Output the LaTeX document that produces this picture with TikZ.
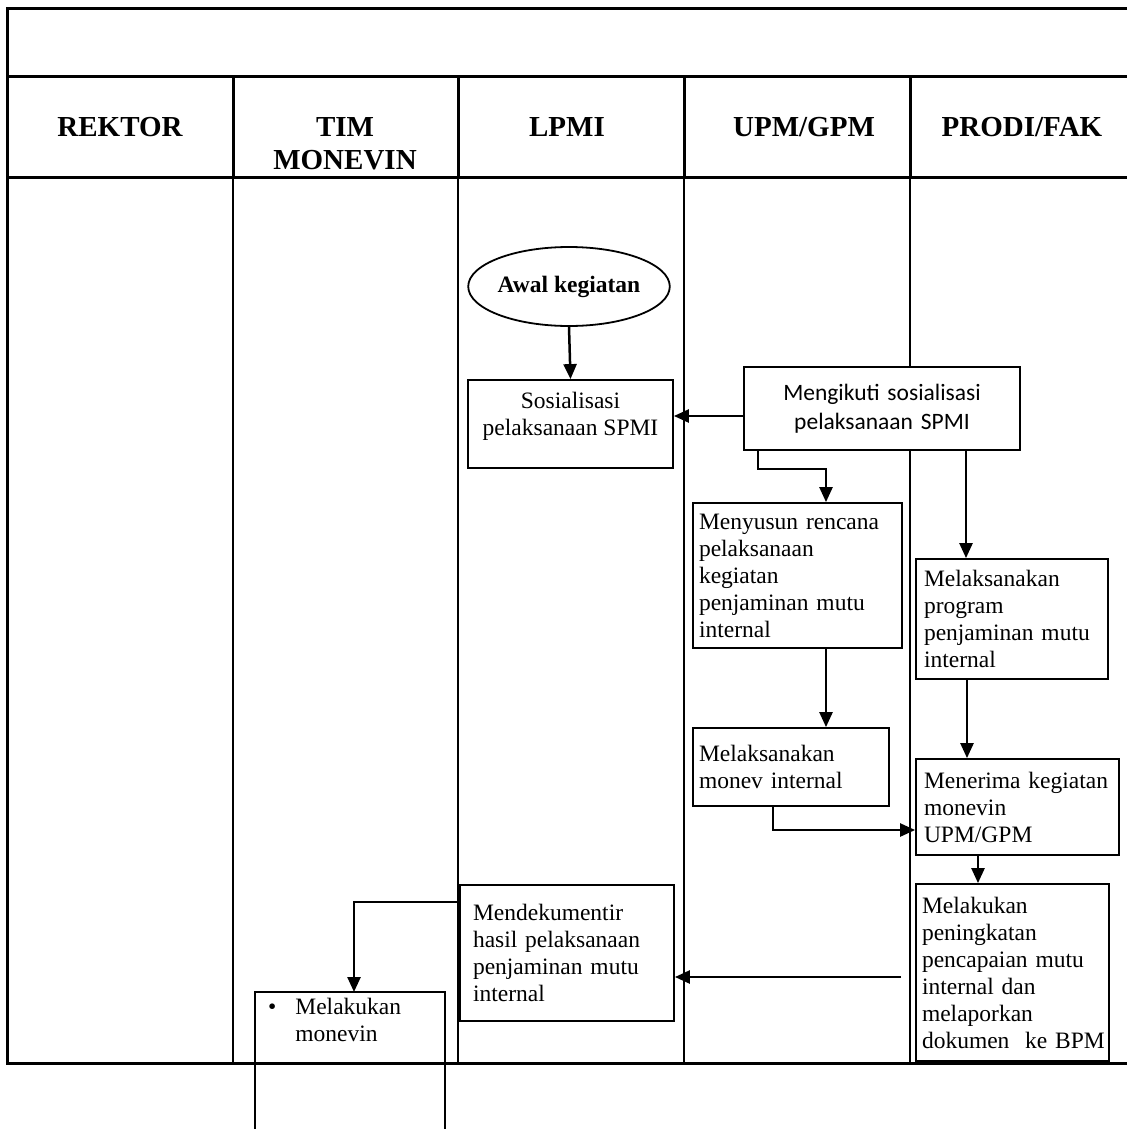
\documentclass[tikz,border=0pt]{standalone}
\usepackage{fontspec}
\setmainfont{Liberation Serif}[BoldFont={Liberation Serif Bold}]
\newfontfamily\calfont{Carlito}
\usetikzlibrary{arrows.meta,shapes.geometric,calc}
\begin{document}
\begin{tikzpicture}[x=1pt,y=-1pt,
  frame/.style={line width=3pt},
  lane/.style={line width=1.8pt},
  head/.style={font=\fontsize{29}{33.5}\selectfont\bfseries, align=center, inner sep=0pt},
  box/.style={draw, line width=1.8pt, fill=white, align=left, inner ysep=0pt,
              font=\fontsize{23.5}{27}\selectfont},
  txt/.style={font=\fontsize{23.5}{27}\selectfont, inner sep=0pt},
  boxline/.style={line width=1.8pt},
  arr/.style={line width=2.5pt, -{Triangle[length=15pt,width=13pt]}}
]
\useasboundingbox (0,0) rectangle (1127,1129);

% frame and lanes
\draw[frame] (1127,9) -- (7,9) -- (7,1063) -- (1127,1063);
\draw[frame] (7,77) -- (1127,77);
\draw[frame] (7,177) -- (1127,177);
\foreach \x in {233,458,684,910}{
  \draw[frame] (\x,77) -- (\x,177);
  \draw[lane] (\x,177) -- (\x,1063);
}

% headers
\node[head] (hrek) at (120,127) {REKTOR};
\node[head] (htim) at (345,143.5) {TIM\\MONEVIN};
\node[head] (hlpmi) at (567,127) {LPMI};
\node[head] (hupm) at (804,127) {UPM/GPM};
\node[head] (hprodi) at (1022,127) {PRODI/FAK};

% start
\node[draw, ellipse, line width=1.8pt, minimum width=180pt, minimum height=79pt,
      inner sep=0pt, font=\fontsize{23.5}{27}\selectfont\bfseries] (awal) at (569,286.5) {Awal kegiatan};

% boxes
\node[box, minimum width=205pt, minimum height=88pt] (sos) at (570.5,424) {};
\node[txt, align=center] (sostxt) at (570.5,416.5) {Sosialisasi\\pelaksanaan SPMI};

\node[box, align=center, text width=260pt, inner xsep=8pt, minimum height=83pt,
      font=\calfont\fontsize{23.5}{29}\selectfont] (meng) at (882,408.5)
      {Mengikuti sosialisasi\\pelaksanaan SPMI};

\node[box, text width=197pt, inner xsep=6pt, minimum height=145pt] (menyusun) at (797.5,575.5)
      {Menyusun rencana\\pelaksanaan\\kegiatan\\penjaminan mutu\\internal};

\node[box, text width=176pt, inner xsep=8pt, minimum height=120pt] (prog) at (1012,619)
      {Melaksanakan\\program\\penjaminan mutu\\internal};

\node[box, text width=184pt, inner xsep=6pt, minimum height=78pt] (monev) at (791,767)
      {Melaksanakan\\monev internal};

\node[box, text width=187pt, inner xsep=8pt, minimum height=96pt] (menerima) at (1017.5,807)
      {Menerima kegiatan\\monevin\\UPM/GPM};

\node[box, text width=181pt, inner xsep=6pt, minimum height=177pt] (pening) at (1012.5,972.5)
      {Melakukan\\peningkatan\\pencapaian mutu\\internal dan\\melaporkan\\\mbox{dokumen\ \ ke BPM}};

\node[box, text width=188pt, inner xsep=13pt, minimum height=136pt] (mend) at (567,953)
      {Mendekumentir\\hasil pelaksanaan\\penjaminan mutu\\internal};

% open box Tim Monevin
\draw[boxline] (255,1129) -- (255,992) -- (445,992) -- (445,1129);
\coordinate (mtop) at (354,992);
\node[txt, anchor=north west] (monevin) at (268,995)
      {\begin{tabular}{@{}l@{\hspace{19pt}}l@{}}\textbullet & Melakukan\\ & monevin\end{tabular}};

% connectors
\draw[arr] (awal.south) -- (sos.north);
\draw[arr] ([yshift=-7.5pt]meng.west) -- ([yshift=-7.5pt]meng.west -| sos.east);
\draw[arr] ([xshift=15pt]meng.south west) -- ++(0,18) -| ([xshift=28.5pt]menyusun.north);
\draw[arr] ([xshift=-46pt]prog.north |- meng.south) -- ([xshift=-46pt]prog.north);
\draw[arr] ([xshift=28.5pt]menyusun.south) -- ([xshift=28.5pt]menyusun.south |- monev.north);
\draw[arr] ([xshift=-45pt]prog.south) -- ([xshift=-45pt]prog.south |- menerima.north);
\draw[arr] ([xshift=-18pt]monev.south) |- ([yshift=-23pt]menerima.west);
\draw[arr] ([xshift=-39.5pt]menerima.south) -- ([xshift=-39.5pt]menerima.south |- pening.north);
\coordinate (c9) at (901,977);
\draw[arr] (c9) -- (c9 -| mend.east);
\draw[arr] ([yshift=51pt]mend.west) -| (mtop);
\end{tikzpicture}
\end{document}
